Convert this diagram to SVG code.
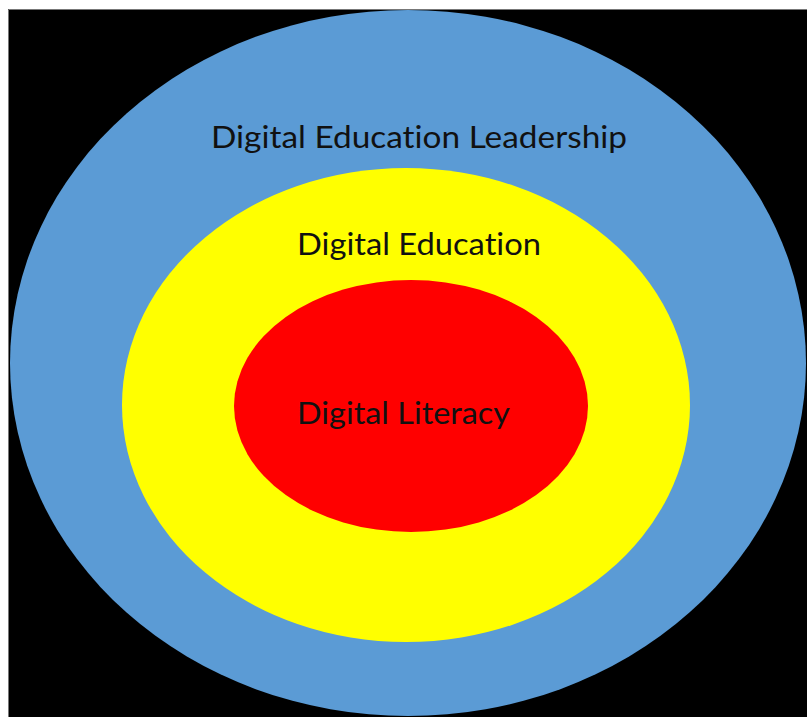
<svg xmlns="http://www.w3.org/2000/svg" width="807" height="717" viewBox="0 0 807 717">
<style>
.lbl{font-family:Lato,"Open Sans","Liberation Sans",sans-serif;font-size:31px;fill:#111;font-variant-ligatures:none;font-feature-settings:"liga" 0;}
</style>
<rect x="0" y="0" width="807" height="717" fill="#fff"/>
<rect x="8" y="9" width="799" height="708" fill="#000"/>
<path d="M8.5 717V9.5H807" fill="none" stroke="#777" stroke-width="1"/>
<g id="leadership">
<ellipse cx="408" cy="363" rx="398" ry="353" fill="#5b9bd5"/>
<text class="lbl" x="211" y="148" textLength="416" lengthAdjust="spacingAndGlyphs">Digital Education Leadership</text>
</g>
<g id="education">
<ellipse cx="406" cy="405" rx="284" ry="237" fill="#ffff00"/>
<text class="lbl" x="297" y="255" textLength="244" lengthAdjust="spacingAndGlyphs">Digital Education</text>
</g>
<g id="literacy">
<ellipse cx="411" cy="406" rx="177" ry="126" fill="#ff0000"/>
<text class="lbl" x="297" y="424" textLength="213" lengthAdjust="spacingAndGlyphs">Digital Literacy</text>
</g>
<g id="connectors"></g>
</svg>
